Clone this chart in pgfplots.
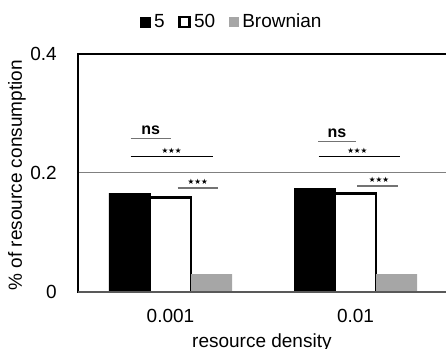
\documentclass[border=0pt]{standalone}
\usepackage{pgfplots}
\pgfplotsset{compat=1.18}
\usepackage{fontspec}
\setmainfont{Liberation Sans}
\newfontfamily\symfont{DejaVu Sans}
\newcommand\lf{\fontsize{19bp}{22bp}\selectfont}
\begin{document}
\lf
\begin{tikzpicture}
\begin{axis}[
  at={(0,0)}, anchor=south west,
  width=370bp, height=238bp, scale only axis,
  xmin=-0.5, xmax=1.5, ymin=0, ymax=0.4,
  xtick={0,1}, xticklabels={0.001,0.01},
  ytick={0,0.2,0.4}, yticklabels={0,0.2,0.4},
  major tick length=0pt,
  ymajorgrids, grid style={black!50, line width=1bp},
  axis line style={black, line width=2.6bp},
  xticklabel style={anchor=base, inner sep=0pt, yshift=-30bp, font=\lf},
  yticklabel style={anchor=east, inner sep=0pt, xshift=-21bp, font=\lf},
  xlabel={\lf resource density}, ylabel={\lf \% of resource consumption},
  x label style={at={(axis description cs:0.497,-0.235)}, anchor=base},
  y label style={at={(axis description cs:-0.165,0.49)}, anchor=center, rotate=0},
  clip=false,
  ybar, bar width=41bp,
  legend style={at={(axis description cs:0.159,1.134)}, anchor=west, draw=none, fill=none,
    legend columns=3,
    nodes={inner sep=1.5bp, font=\lf},
    /tikz/every even column/.append style={column sep=12bp}},
]
\addplot[fill=black, draw=black, line width=0.5bp, bar shift=-41bp,
  legend image code/.code={\draw[fill=black,draw=black] (0bp,-5bp) rectangle (10bp,5bp);}]
  coordinates {(0,0.166) (1,0.174)};
\addlegendentry{\lf\hspace{2bp}5}
\addplot[fill=white, draw=black, line width=2.6bp, bar shift=0bp,
  legend image code/.code={\draw[fill=white,draw=black,line width=2.6bp] (1.3bp,-4.7bp) rectangle (11.3bp,5.3bp);}]
  coordinates {(0,0.159) (1,0.166)};
\addlegendentry{\lf\hspace{2bp}50}
\addplot[fill=black!35, draw=none, bar shift=41bp,
  legend image code/.code={\fill[black!35] (0bp,-5bp) rectangle (10bp,5bp);}]
  coordinates {(0,0.030) (1,0.030)};
\addlegendentry{\lf\hspace{2bp}Brownian}
% bottom axis line (grey)
\draw[black!65, line width=2.4bp] (rel axis cs:0,0) -- (rel axis cs:1,0);
% significance annotations, group 1
\draw[black!55, line width=1.4bp] (axis cs:-0.215,0.258) -- (axis cs:0.001,0.258);
\node[anchor=base, inner sep=0pt, font=\fontsize{16bp}{18bp}\selectfont\bfseries] at (axis cs:-0.107,0.264) {ns};
\draw[black, line width=1.1bp] (axis cs:-0.215,0.227) -- (axis cs:0.228,0.227);
\node[anchor=south, inner sep=0pt, font=\symfont\fontsize{7.5bp}{9bp}\selectfont] at (axis cs:0.006,0.232) {★★★};
\draw[black!55, line width=1.4bp] (axis cs:0.039,0.175) -- (axis cs:0.258,0.175);
\node[anchor=south, inner sep=0pt, font=\symfont\fontsize{7.5bp}{9bp}\selectfont] at (axis cs:0.147,0.180) {★★★};
% group 2
\draw[black!55, line width=1.4bp] (axis cs:0.799,0.253) -- (axis cs:1.0,0.253);
\node[anchor=base, inner sep=0pt, font=\fontsize{16bp}{18bp}\selectfont\bfseries] at (axis cs:0.9,0.259) {ns};
\draw[black, line width=1.1bp] (axis cs:0.80,0.227) -- (axis cs:1.24,0.227);
\node[anchor=south, inner sep=0pt, font=\symfont\fontsize{7.5bp}{9bp}\selectfont] at (axis cs:1.01,0.232) {★★★};
\draw[black!55, line width=1.4bp] (axis cs:1.01,0.178) -- (axis cs:1.231,0.178);
\node[anchor=south, inner sep=0pt, font=\symfont\fontsize{7.5bp}{9bp}\selectfont] at (axis cs:1.127,0.183) {★★★};
\end{axis}
\pgfresetboundingbox
\useasboundingbox (-78bp,-57bp) rectangle (368bp,292bp);
\end{tikzpicture}
\end{document}
